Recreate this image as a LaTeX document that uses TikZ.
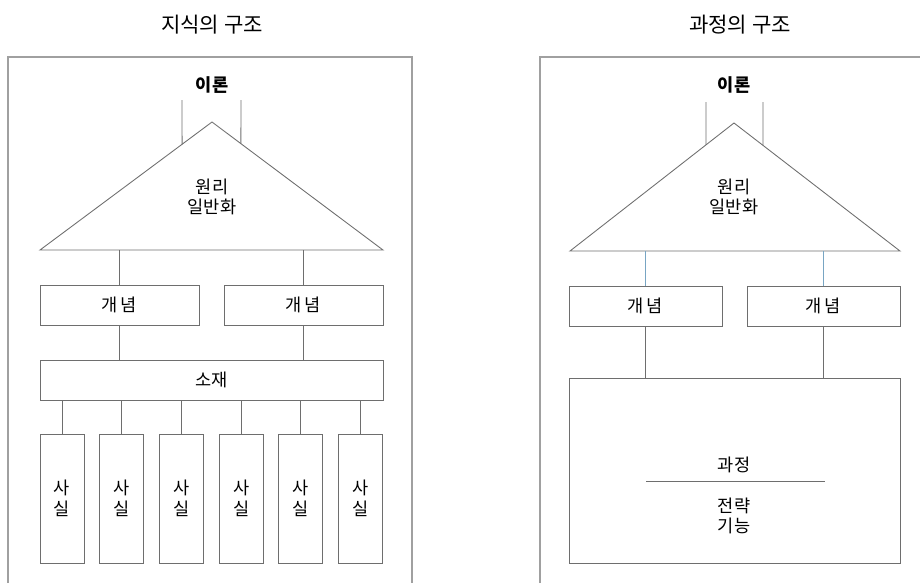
\documentclass[tikz,border=0pt]{standalone}
\usepackage{fontspec}
\setmainfont{Noto Sans CJK KR}
\usetikzlibrary{calc}

\definecolor{framegray}{RGB}{160,160,160}
\definecolor{linegray}{RGB}{110,110,110}
\definecolor{linkblue}{RGB}{120,165,195}

\tikzset{
  frame/.style={draw=framegray, line width=1pt},
  link/.style={draw=linegray, line width=0.5pt},
  box/.style={draw=linegray, line width=0.5pt, rectangle, inner sep=0pt,
    minimum height=0.8cm, align=center, font=\fontsize{10}{11.5}\selectfont},
  label/.style={align=center, inner sep=1pt, font=\fontsize{10}{11}\selectfont},
  heading/.style={inner sep=1pt, font=\fontsize{12}{14}\selectfont}
}

\begin{document}
\begin{tikzpicture}[x=0.02cm, y=-0.02cm]
        \useasboundingbox (0,0) rectangle (920,583);

        % Titles
        \node[heading] (titleL) at (212,25) {지식의 구조};
        \node[heading] (titleR) at (740,25) {과정의 구조};

        % Frames
        \draw[frame] (8,583) -- (8,57) -- (412,57) -- (412,583);
        \draw[frame] (540,583) -- (540,57) -- (920,57);

        % Left: theory and triangle
        \node[label, font=\fontsize{10}{11}\selectfont\bfseries] (theoryL) at (212,85) {이론};
        \coordinate (apexL) at (212,122);
        \coordinate (leftL) at (40,250);
        \coordinate (rightL) at (383,250);
        \draw[link] (apexL) -- (leftL) -- (rightL) -- cycle;
        \node[label] (principleL) at (212,197) {원리\\일반화};
        \coordinate (stemL1) at (182,100);
        \coordinate (stemL2) at (241,100);
        \draw[link] (stemL1) -- ($(apexL)!0.174!(leftL)$);
        \draw[link] (stemL2) -- ($(apexL)!0.169!(rightL)$);

        % Left: concepts and material
        \node[box, minimum width=3.18cm] (conceptL1) at (119.5,305) {개\,념};
        \node[box, minimum width=3.18cm] (conceptL2) at (303.5,305) {개\,념};
        \node[box, minimum width=6.86cm] (materialL) at (211.5,380) {소재};
        \draw[link] (conceptL1.north |- leftL) -- (conceptL1.north);
        \draw[link] (conceptL2.north |- leftL) -- (conceptL2.north);
        \draw[link] (conceptL1.south) -- (conceptL1.south |- materialL.north);
        \draw[link] (conceptL2.south) -- (conceptL2.south |- materialL.north);

        % Left: facts
        \foreach \i in {0,...,5} {
          \node[box, minimum width=0.88cm, minimum height=2.58cm,
            font=\fontsize{10}{12}\selectfont] (fact\i) at (62+59.7*\i,498.5) {사\\실};
          \draw[link] (fact\i.north |- materialL.south) -- (fact\i.north);
        }

        % Right: theory and triangle
        \node[label, font=\fontsize{10}{11}\selectfont\bfseries] (theoryR) at (734,85) {이론};
        \coordinate (apexR) at (734,123);
        \coordinate (leftR) at (570,251);
        \coordinate (rightR) at (900,251);
        \draw[link] (apexR) -- (leftR) -- (rightR) -- cycle;
        \node[label] (principleR) at (734,197) {원리\\일반화};
        \coordinate (stemR1) at (706,102);
        \coordinate (stemR2) at (763,102);
        \draw[link] (stemR1) -- ($(apexR)!0.171!(leftR)$);
        \draw[link] (stemR2) -- ($(apexR)!0.175!(rightR)$);

        % Right: concepts and process
        \node[box, minimum width=3.06cm] (conceptR1) at (645.5,306) {개\,념};
        \node[box, minimum width=3.06cm] (conceptR2) at (823.5,306) {개\,념};
        \node[box, minimum width=6.62cm, minimum height=3.7cm] (processR) at (734.5,470.5) {};
        \draw[link, draw=linkblue] (conceptR1.north |- leftR) -- (conceptR1.north);
        \draw[link, draw=linkblue] (conceptR2.north |- leftR) -- (conceptR2.north);
        \draw[link] (conceptR1.south) -- (conceptR1.south |- processR.north);
        \draw[link] (conceptR2.south) -- (conceptR2.south |- processR.north);

        % Process labels
        \node[label] (processL) at (734,465) {과정};
        \draw[link] (646,481) -- (825,481);
        \node[label] (strategyL) at (734,516) {전략\\기능};

        \end{tikzpicture}
\end{document}
